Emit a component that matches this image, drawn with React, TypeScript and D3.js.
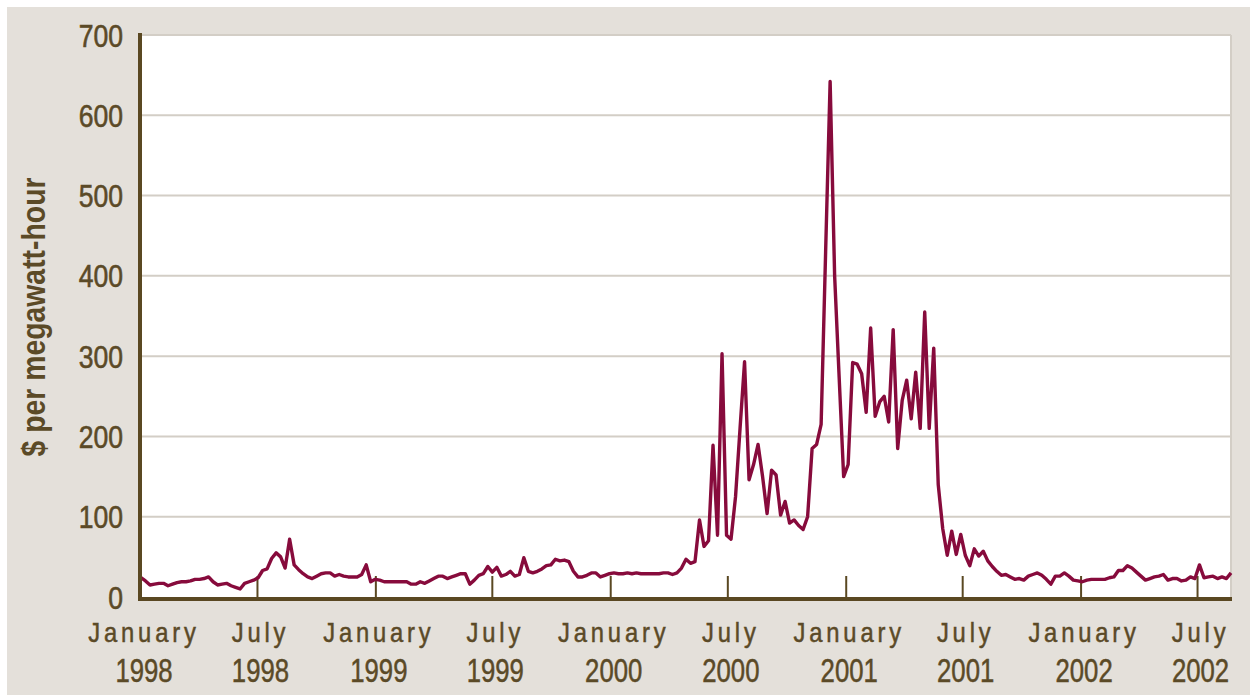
import * as d3 from "d3";

// weekly average price, $ per megawatt-hour, starting January 1998
const prices = [
  24, 20, 15, 16, 17, 17, 14, 16, 18, 19, 19, 20, 22, 22, 23, 25, 19, 15, 16, 17,
  14, 12, 10, 17, 19, 21, 24, 33, 35, 48, 55, 50, 36, 72, 40, 34, 29, 25, 23, 26,
  29, 30, 30, 26, 28, 26, 25, 25, 25, 28, 40, 19, 22,
  21, 19, 19, 19, 19, 19, 19, 16, 16, 19, 17, 20, 23, 26, 26, 23, 25, 27, 29, 29,
  16, 21, 27, 29, 38, 31, 37, 26, 28, 32, 26, 28, 49, 32, 30, 32, 35, 39, 40, 47,
  45, 46, 44, 32, 25, 25, 27, 30, 30, 25, 27, 29, 30, 29, 29, 30, 29, 30, 29, 29,
  29, 29, 29, 30, 30, 28, 30, 36, 47, 42, 44, 96, 63, 70, 189, 77, 303, 77, 72, 125,
  210, 293, 146, 165, 190, 150, 104, 158, 152, 102, 119, 92, 96, 89, 84, 100, 185, 190, 215, 430,
  642, 400, 274, 150, 165, 292, 290, 278, 230, 335, 225, 243, 250, 218, 333, 185, 245, 270, 222, 280,
  210, 355, 210, 310, 140, 85, 52, 82, 53, 78, 52, 39, 60, 51, 57, 45, 38, 32, 27, 28,
  25, 22, 23, 21, 26, 28, 30, 27, 22, 16, 26, 26, 30, 26, 21, 20, 19, 21, 22, 22,
  22, 22, 24, 25, 33, 33, 39, 36, 31, 26, 21, 23, 25, 26, 28, 21, 23, 23, 20, 21,
  25, 23, 40, 24, 25, 26, 23, 25, 23, 30,
];

const startDate = new Date(1998, 0, 1);
const yTicks = [0, 100, 200, 300, 400, 500, 600, 700];
const xTickDates = [
  "1998-01-01", "1998-07-01", "1999-01-01", "1999-07-01", "2000-01-01",
  "2000-07-01", "2001-01-01", "2001-07-01", "2002-01-01", "2002-07-01",
];

const App = () => {
  const width = 1250;
  const height = 698;
  const plotLeft = 141;
  const plotRight = 1231;
  const plotTop = 35;
  const plotBottom = 597;

  const textColor = "#5b4a27";
  const axisColor = "#5a4822";
  const font = "'Liberation Sans', Arial, sans-serif";

  const data = prices.map((v, i) => ({ date: d3.timeDay.offset(startDate, i * 7), value: v }));

  const x = d3.scaleTime([startDate, data[data.length - 1].date], [plotLeft, plotRight]);
  const y = d3.scaleLinear([0, 700], [plotBottom, plotTop]);
  const line = d3
    .line<{ date: Date; value: number }>()
    .x((d) => x(d.date))
    .y((d) => y(d.value));

  const parse = d3.timeParse("%Y-%m-%d");
  const ticks = xTickDates.map((s) => parse(s)!);

  return (
    <div style={{ position: "absolute", left: 0, top: 0 }}>
      <svg width={width} height={height} style={{ display: "block" }}>
        <rect x={0} y={0} width={width} height={height} fill='#ffffff' />
        <rect x={7} y={7} width={width - 7} height={688} fill='#e4e0da' />
        <rect
          x={plotLeft}
          y={plotTop}
          width={plotRight - plotLeft}
          height={plotBottom - plotTop}
          fill='#ffffff'
        />
        <g stroke='#d3cec6' strokeWidth={2}>
          {yTicks
            .filter((t) => t > 0)
            .map((t) => (
              <line key={t} x1={plotLeft} x2={plotRight} y1={y(t)} y2={y(t)} />
            ))}
          <line x1={plotRight} x2={plotRight} y1={plotTop} y2={plotBottom} />
        </g>
        <g stroke={axisColor} strokeWidth={2}>
          {ticks.slice(1).map((d, i) => (
            <line key={i} x1={x(d)} x2={x(d)} y1={plotBottom} y2={plotBottom - 21} />
          ))}
        </g>
        <path
          fill='none'
          stroke='#870b3c'
          strokeWidth={3.4}
          strokeLinejoin='round'
          d={line(data)!}
        />
        <line x1={plotLeft - 1} x2={plotLeft - 1} y1={plotTop - 2} y2={plotBottom + 4} stroke={axisColor} strokeWidth={4} />
        <line x1={plotLeft - 3} x2={plotRight + 1} y1={plotBottom + 2} y2={plotBottom + 2} stroke={axisColor} strokeWidth={4} />
        <g fill={textColor} stroke={textColor} strokeWidth={0.6} fontFamily={font} fontSize={32} textAnchor='end'>
          {yTicks.map((t) => (
            <text key={t} transform={`translate(123,${y(t) + 11.5}) scale(0.83,1)`}>
              {t}
            </text>
          ))}
        </g>
        <g fill={textColor} stroke={textColor} strokeWidth={0.5} fontFamily={font} textAnchor='middle'>
          {ticks.map((d, i) => (
            <g key={i}>
              <text
                transform={`translate(${x(d) + 3},642) scale(0.85,1)`}
                fontSize={28}
                letterSpacing={4.5}
              >
                {d3.timeFormat("%B")(d)}
              </text>
              <text transform={`translate(${x(d) + 3},682) scale(0.78,1)`} fontSize={33}>
                {d3.timeFormat("%Y")(d)}
              </text>
            </g>
          ))}
        </g>
        <text
          transform='translate(45,317) rotate(-90) scale(0.86,1)'
          textAnchor='middle'
          fill={textColor}
          fontFamily={font}
          fontWeight='bold'
          fontSize={33}
        >
          $ per megawatt-hour
        </text>
      </svg>
    </div>
  );
};

export default App;
